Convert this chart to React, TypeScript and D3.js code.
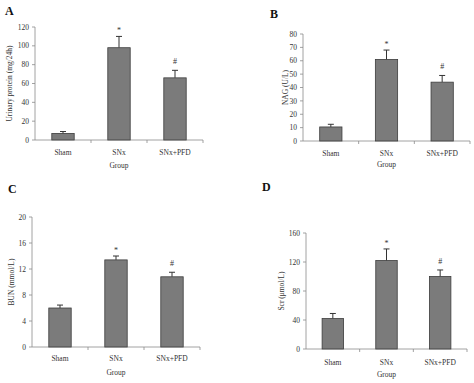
import React from "react";
import * as d3 from "d3";

const groups = ["Sham", "SNx", "SNx+PFD"];

const proteinMean = [7, 98, 66];
const proteinErr = [2, 12, 8];
const nagMean = [10.5, 61, 44];
const nagErr = [2, 7, 5];
const bunMean = [6, 13.4, 10.8];
const bunErr = [0.45, 0.6, 0.7];
const scrMean = [42, 122, 100];
const scrErr = [7, 16, 9];

const markers = ["", "*", "#"];

const panels = [
  { letter: "A", title: "Urinary protein (mg/24h)", mean: proteinMean, err: proteinErr, max: 120, step: 20,
    left: 35, right: 203, top: 27, bottom: 140, lx: 5, ly: 15, tx: 9, catY: 155, grpY: 168 },
  { letter: "B", title: "NAG (U/L)", mean: nagMean, err: nagErr, max: 80, step: 10,
    left: 303, right: 470, top: 34, bottom: 141, lx: 270, ly: 18, tx: 285, catY: 156, grpY: 167 },
  { letter: "C", title: "BUN (mmol/L)", mean: bunMean, err: bunErr, max: 20, step: 4,
    left: 32, right: 200, top: 217, bottom: 347, lx: 8, ly: 193, tx: 11, catY: 361, grpY: 375 },
  { letter: "D", title: "Scr (\u03bcmol/L)", mean: scrMean, err: scrErr, max: 160, step: 40,
    left: 306, right: 467, top: 233, bottom: 349, lx: 262, ly: 191, tx: 281, catY: 365, grpY: 377 },
];

const FONT = "'Liberation Serif', 'Times New Roman', serif";
const AX = "#8a8a8a";
const TXT = "#333";

function Panel({ p }: { p: any }) {
  const x = d3.scaleBand<string>().domain(groups).range([p.left, p.right]).paddingInner(0).paddingOuter(0);
  const y = d3.scaleLinear().domain([0, p.max]).range([p.bottom, p.top]);
  const ticks = d3.range(0, p.max + p.step / 2, p.step);
  const bw = x.bandwidth() * 0.4;
  const boundaries = groups.map((_, i) => p.left + x.step() * (i + 1));
  return (
    <g>
      <text x={p.lx} y={p.ly} fontFamily={FONT} fontWeight="bold" fontSize={12} fill="#111">{p.letter}</text>
      {/* y axis */}
      <line x1={p.left} x2={p.left} y1={p.top} y2={p.bottom} stroke={AX} strokeWidth={0.8} />
      {ticks.map((t) => (
        <g key={t}>
          <line x1={p.left - 3} x2={p.left} y1={y(t)} y2={y(t)} stroke={AX} strokeWidth={0.8} />
          <text x={p.left - 6} y={y(t)} dy="0.35em" textAnchor="end" fontFamily={FONT} fontSize={7.5} fill={TXT}>{t}</text>
        </g>
      ))}
      {/* x axis */}
      <line x1={p.left} x2={p.right} y1={p.bottom} y2={p.bottom} stroke={AX} strokeWidth={0.8} />
      {boundaries.map((b, i) => (
        <line key={i} x1={b} x2={b} y1={p.bottom} y2={p.bottom + 3} stroke={AX} strokeWidth={0.8} />
      ))}
      {groups.map((g, i) => {
        const cx = (x(g) as number) + x.bandwidth() / 2;
        const top = y(p.mean[i]);
        const et = y(p.mean[i] + p.err[i]);
        return (
          <g key={g}>
            <line x1={cx} x2={cx} y1={top} y2={et} stroke="#333" strokeWidth={1} />
            <line x1={cx - 3} x2={cx + 3} y1={et} y2={et} stroke="#333" strokeWidth={1} />
            <rect x={cx - bw / 2} y={top} width={bw} height={p.bottom - top} fill="#7b7b7b" stroke="#3c3c3c" strokeWidth={0.8} />
            {markers[i] && (
              <text x={cx} y={et - (markers[i] === "*" ? 3 : 6)} textAnchor="middle" fontFamily={FONT} fontSize={8} fill={TXT}>{markers[i]}</text>
            )}
            <text x={cx} y={p.catY} textAnchor="middle" fontFamily={FONT} fontSize={7.5} fill={TXT}>{g}</text>
          </g>
        );
      })}
      <text x={(p.left + p.right) / 2} y={p.grpY} textAnchor="middle" fontFamily={FONT} fontSize={7.5} fill={TXT}>Group</text>
      <text transform={`translate(${p.tx},${(p.top + p.bottom) / 2}) rotate(-90)`} textAnchor="middle" dy="0.35em" fontFamily={FONT} fontSize={7.5} fill={TXT}>{p.title}</text>
    </g>
  );
}

export default function App() {
  return (
    <svg width={474} height={383} style={{ position: "absolute", left: 0, top: 0, background: "#fff" }}>
      <rect width={474} height={383} fill="#fff" />
      {panels.map((p) => <Panel key={p.letter} p={p} />)}
    </svg>
  );
}
